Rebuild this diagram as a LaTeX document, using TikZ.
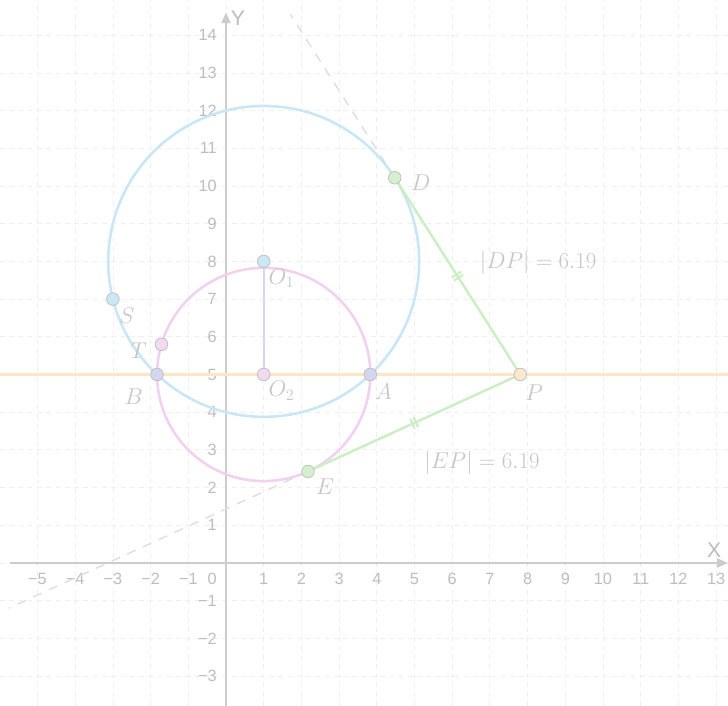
\documentclass[tikz,border=0pt]{standalone}
\usepackage{fontspec}
\setsansfont{Liberation Sans}
\usetikzlibrary{calc,decorations.markings,arrows.meta}
\definecolor{axisc}{HTML}{CCCCCC}
\definecolor{tickc}{HTML}{BDBDBD}
\definecolor{gridc}{HTML}{EFEFEF}
\definecolor{labc}{HTML}{C6C6C6}
\definecolor{dashc}{HTML}{DDDDDD}
\definecolor{cblue}{HTML}{C8E6F6}
\definecolor{cpink}{HTML}{F2D0F0}
\definecolor{corange}{HTML}{FCE6C4}
\definecolor{cgreen}{HTML}{CBEEC4}
\definecolor{clav}{HTML}{D6D6F4}
\definecolor{fblue}{HTML}{CDE8F5}
\definecolor{fpink}{HTML}{F3DAF0}
\definecolor{flav}{HTML}{D5D5F0}
\definecolor{fgreen}{HTML}{D5F0CF}
\definecolor{forange}{HTML}{FCE8CF}
\definecolor{ptline}{HTML}{C0C0C0}
\tikzset{
  gridline/.style={gridc, line width=0.6pt, dash pattern=on 3.5pt off 3.5pt},
  axisline/.style={axisc, line width=1.1pt, -{Triangle[length=8pt,width=7pt]}},
  ticklab/.style={tickc, font=\sffamily\fontsize{12.3}{14}\selectfont, inner sep=0pt},
  axislab/.style={tickc, font=\sffamily\fontsize{16}{18}\selectfont, inner sep=0pt},
  ptlab/.style={labc, font=\fontsize{17.3}{20}\selectfont, inner sep=0pt},
  pt/.style={circle, draw=ptline, line width=0.6pt, minimum size=0.334cm, inner sep=0pt},
  circone/.style={cblue, line width=1.9pt},
  circtwo/.style={cpink, line width=1.9pt},
  radline/.style={corange, line width=2pt},
  tanseg/.style={cgreen, line width=1.8pt, postaction={decorate},
    decoration={markings, mark=at position 0.5 with {
      \draw[cgreen, line width=1.5pt] (-1.4pt,-4.2pt) -- (-1.4pt,4.2pt) (1.4pt,-4.2pt) -- (1.4pt,4.2pt);}}},
  centseg/.style={clav, line width=1.8pt},
  extline/.style={dashc, line width=1pt, dash pattern=on 7pt off 6pt}
}
\begin{document}
\begin{tikzpicture}
\useasboundingbox (-5.995,-3.793) rectangle (13.316,14.934);
\fill[white] (-5.995,-3.793) rectangle (13.316,14.934);
% grid
\foreach \i in {-5,...,13} \draw[gridline] (\i,-3.793) -- (\i,14.934);
\foreach \j in {-3,...,14} \draw[gridline] (-5.995,\j) -- (13.316,\j);
% axes
\coordinate (xs) at (-5.73,0);
\coordinate (xe) at (13.31,0);
\coordinate (ys) at (0,-3.793);
\coordinate (ye) at (0,14.6);
\draw[axisline] (xs) -- (xe);
\draw[axisline] (ys) -- (ye);
\node[axislab] (xl) at (12.95,0.33) {X};
\node[axislab] (yl) at (0.32,14.45) {Y};
\foreach \i/\t in {-5/−5,-4/−4,-3/−3,-2/−2,-1/−1,1/1,2/2,3/3,4/4,5/5,6/6,7/7,8/8,9/9,10/10,11/11,12/12,13/13}
  \node[ticklab] at (\i,-0.43) {\t};
\node[ticklab] (zero) at (-0.37,-0.43) {0};
\foreach \j/\t in {-3/−3,-2/−2,-1/−1,1/1,2/2,3/3,4/4,5/5,6/6,7/7,8/8,9/9,10/10,11/11,12/12,13/13,14/14}
  \node[ticklab, anchor=east] at (-0.24,\j) {\t};
% key coordinates
\coordinate (o1) at (1,8);
\coordinate (o2) at (1,5);
\coordinate (p) at (7.806,5);
\coordinate (d) at (4.4758,10.2180);
\coordinate (e) at (2.1755,2.4274);
\coordinate (s) at (-3,7);
\coordinate (t) at (-1.7129,5.8);
\coordinate (a) at (3.8284,5);
\coordinate (b) at (-1.8284,5);
\coordinate (hl) at (-5.995,5);
\coordinate (hr) at (13.316,5);
\coordinate (dx) at ($(d)!-0.83!(p)$);
\coordinate (ex) at ($(e)!-1.41!(p)$);
% circles
\draw[circone] (o1) circle (4.1231);
\draw[circtwo] (o2) circle (2.8284);
% radical axis
\draw[radline] (hl) -- (hr);
% segments
\draw[centseg] (o1) -- (o2);
\draw[extline] (d) -- (dx);
\draw[extline] (e) -- (ex);
\draw[tanseg] (d) -- (p);
\draw[tanseg] (e) -- (p);
% points
\node[pt, fill=fblue] (O1) at (o1) {};
\node[pt, fill=fpink] (O2) at (o2) {};
\node[pt, fill=fblue] (S) at (s) {};
\node[pt, fill=fpink] (T) at (t) {};
\node[pt, fill=flav] (B) at (b) {};
\node[pt, fill=flav] (A) at (a) {};
\node[pt, fill=forange] (P) at (p) {};
\node[pt, fill=fgreen] (D) at (d) {};
\node[pt, fill=fgreen] (E) at (e) {};
% labels
\node[ptlab] (lD) at ($(d)+(0.69,-0.14)$) {$D$};
\node[ptlab] (lO1) at ($(o1)+(0.47,-0.45)$) {$O_1$};
\node[ptlab] (lO2) at ($(o2)+(0.47,-0.43)$) {$O_2$};
\node[ptlab] (lS) at ($(s)+(0.37,-0.45)$) {$S$};
\node[ptlab] (lT) at ($(t)+(-0.6,-0.16)$) {$T$};
\node[ptlab] (lB) at ($(b)+(-0.62,-0.58)$) {$B$};
\node[ptlab] (lA) at ($(a)+(0.35,-0.45)$) {$A$};
\node[ptlab] (lP) at ($(p)+(0.37,-0.48)$) {$P$};
\node[ptlab] (lE) at ($(e)+(0.45,-0.40)$) {$E$};
\node[ptlab] (lDP) at (8.28,7.96) {$|DP|=6.19$};
\node[ptlab] (lEP) at (6.79,2.65) {$|EP|=6.19$};
\end{tikzpicture}
\end{document}
